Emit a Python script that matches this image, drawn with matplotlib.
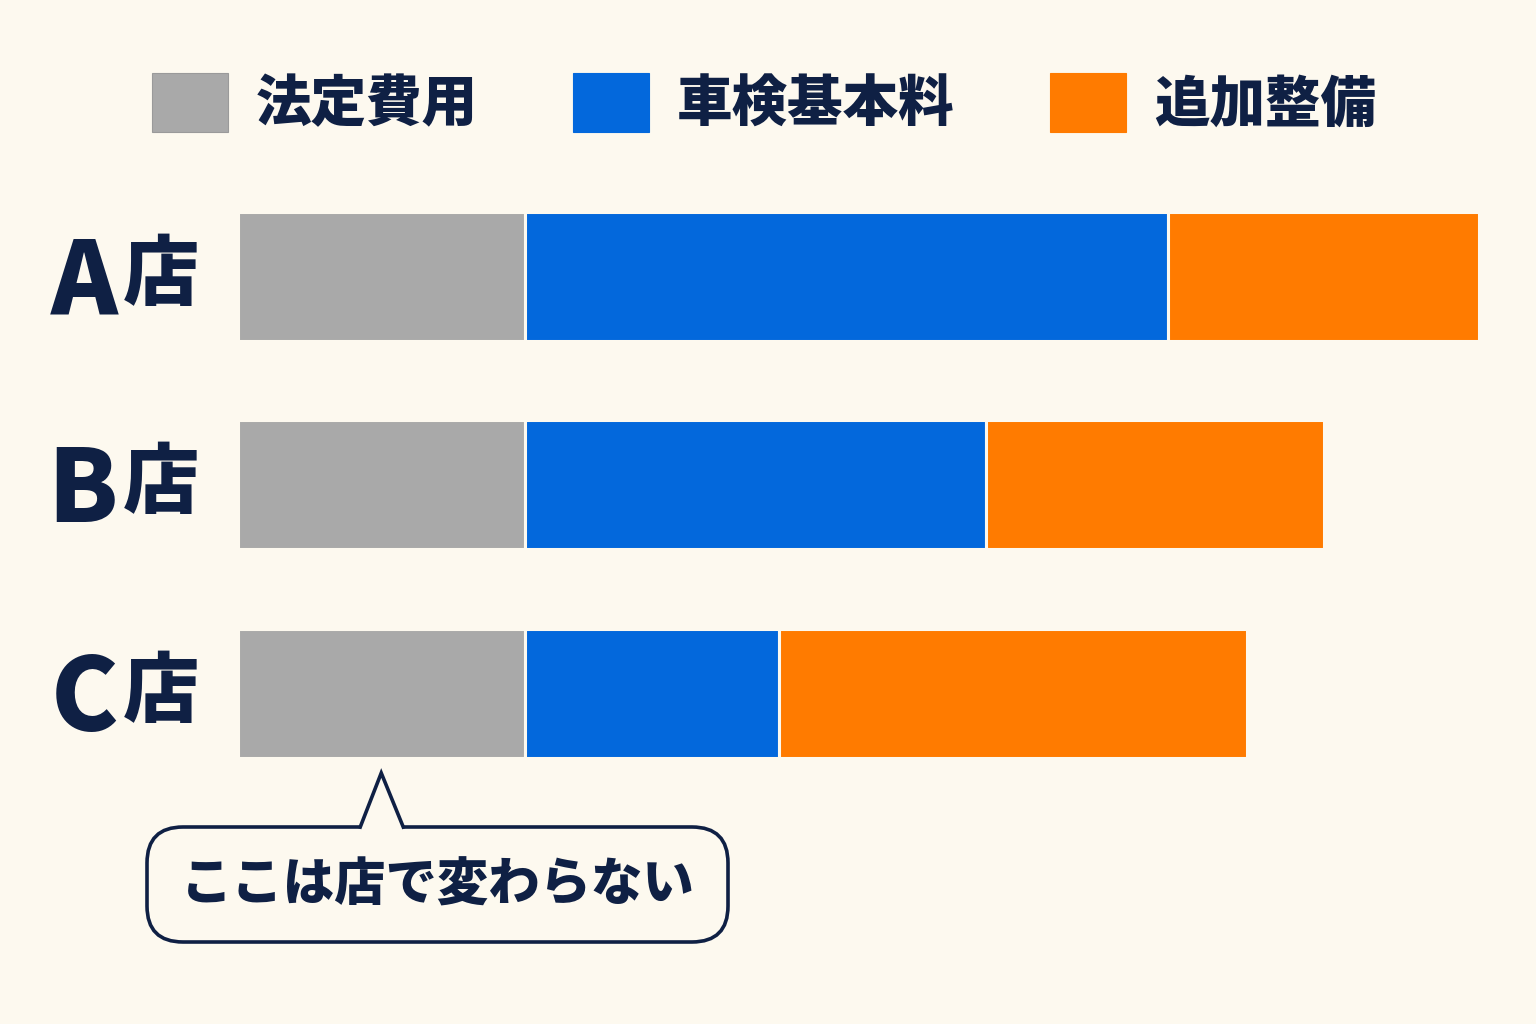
import matplotlib
matplotlib.use("Agg")
import matplotlib.pyplot as plt
from matplotlib.patches import FancyBboxPatch, Polygon, Patch
from matplotlib.lines import Line2D
from matplotlib.transforms import blended_transform_factory
import numpy as np

plt.rcParams['font.family'] = ['Noto Sans CJK JP', 'DejaVu Sans']

# ---- data (relative cost units) ----
stores = ["A", "B", "C"]
store_suffix = "店"
series_names = ["法定費用", "車検基本料", "追加整備"]
legal_fee = [2.865, 2.865, 2.865]
base_fee = [6.43, 4.61, 2.54]
extra_fee = [3.11, 3.38, 4.68]
callout_text = "ここは店で変わらない"

colors = ["#a9a9a9", "#0368dc", "#ff7b00"]
bg = "#fdf9ef"
navy = "#0f2044"

W, H = 1536, 1024
fig = plt.figure(figsize=(W / 100, H / 100), dpi=100, facecolor=bg)

def fx(px):
    return px / W

def fy(py):
    return 1 - py / H

row_px = 208.5
ax_left, ax_right = 238, 1500
ax_top = 276 - 0.5 * row_px
ax_h = 3 * row_px
ax = fig.add_axes([fx(ax_left), fy(ax_top + ax_h), (ax_right - ax_left) / W, ax_h / H])
ax.set_facecolor(bg)
ax.set_xlim(0, (ax_right - ax_left) / 100)
ax.set_ylim(2.5, -0.5)
ax.axis('off')

y = np.arange(len(stores))
left = np.zeros(len(stores))
bar_h = 129 / row_px
for vals, col in zip([legal_fee, base_fee, extra_fee], colors):
    ax.barh(y, vals, left=left, height=bar_h, color=col, edgecolor=bg, linewidth=2.2)
    left = left + np.array(vals)

# row labels
tr = blended_transform_factory(fig.transFigure, ax.transData)
for i, s in enumerate(stores):
    ax.text(fx(118), i + 0.035, s, transform=tr, ha='right', va='center',
            fontsize=73, fontweight='black', color=navy)
    ax.text(fx(199), i + 0.0, store_suffix, transform=tr, ha='right', va='center',
            fontsize=55, fontweight='black', color=navy)

# legend
handles = [Patch(facecolor=c, edgecolor='#9a9a9a' if i == 0 else c, linewidth=0.8)
           for i, c in enumerate(colors)]
leg = fig.legend(handles, series_names, loc='center', bbox_to_anchor=(fx(764), fy(103)),
                 ncol=3, frameon=False, handlelength=1.37, handleheight=1.27,
                 handletextpad=0.5, columnspacing=1.72,
                 prop={'family': ['Noto Sans CJK JP'], 'weight': 'black', 'size': 40})
for t in leg.get_texts():
    t.set_color(navy)

# callout box
bx0, bx1, by0, by1 = 147, 728, 827, 942
box = FancyBboxPatch((fx(bx0 + 36), fy(by1 - 36)), fx(bx1 - bx0 - 72), (by1 - by0 - 72) / H,
                     boxstyle=f"round,pad={36 / W},rounding_size={36 / W}",
                     transform=fig.transFigure, facecolor=bg, edgecolor=navy,
                     linewidth=2.6, mutation_aspect=W / H)
fig.add_artist(box)
# pointer toward the gray segment of C
tip_x = ax_left + legal_fee[2] / 2 * 100
tri = Polygon([(fx(tip_x - 21), fy(by0 + 2)), (fx(tip_x), fy(773)), (fx(tip_x + 22), fy(by0 + 2))],
              closed=True, transform=fig.transFigure, facecolor=bg, edgecolor='none')
fig.add_artist(tri)
fig.add_artist(Line2D([fx(tip_x - 21), fx(tip_x), fx(tip_x + 22)],
                      [fy(by0), fy(773), fy(by0)], transform=fig.transFigure,
                      color=navy, linewidth=2.6, solid_joinstyle='miter'))
fig.text(fx(438), fy(885), callout_text, ha='center', va='center', fontsize=37,
         fontweight='black', color=navy)

fig.savefig("out.png", dpi=100, facecolor=bg)
